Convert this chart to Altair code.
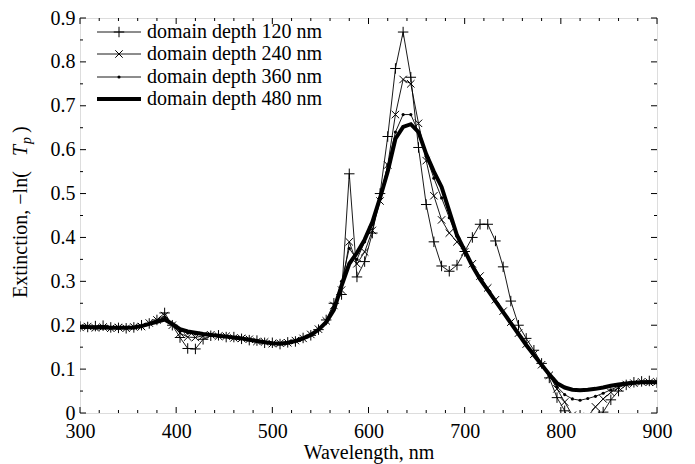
import altair as alt
import pandas as pd

FONT = "Liberation Serif"

wavelength = [300, 308, 316, 324, 332, 340, 348, 356, 364, 372, 380, 388, 396, 404, 412, 420,
              428, 436, 444, 452, 460, 468, 476, 484, 492, 500, 508, 516, 524, 532, 540, 548,
              556, 564, 572, 580, 588, 596, 604, 612, 620, 628, 636, 644, 652, 660, 668, 676,
              684, 692, 700, 708, 716, 724, 732, 740, 748, 756, 764, 772, 780, 788, 796, 804,
              812, 820, 828, 836, 844, 852, 860, 868, 876, 884, 892, 900]

depth_120 = [.197, .196, .198, .199, .195, .194, .193, .195, .200, .204, .212, .228, .200, .172, .147, .146,
             .168, .176, .177, .173, .173, .169, .166, .165, .160, .160, .157, .161, .163, .171, .177, .190,
             .212, .250, .270, .545, .310, .345, .410, .500, .630, .785, .868, .765, .605, .475, .390, .335,
             .323, .337, .368, .400, .430, .430, .392, .333, .255, .200, .170, .143, .113, .080, .035, .005,
             -.030, -.060, -.045, -.020, .002, .030, .050, .064, .070, .072, .073, .069]

depth_240 = [.195, .197, .194, .196, .193, .195, .193, .196, .197, .205, .212, .222, .200, .182, .173, .172,
             .176, .178, .175, .175, .171, .170, .168, .163, .162, .158, .159, .160, .165, .170, .179, .191,
             .210, .245, .280, .390, .340, .367, .416, .483, .565, .680, .760, .750, .660, .575, .495, .440,
             .410, .390, .367, .340, .312, .285, .258, .232, .207, .182, .157, .134, .110, .086, .055, .025,
             -.005, -.030, -.008, .014, .032, .047, .058, .065, .068, .071, .070, .071]

depth_360 = [.196, .195, .196, .194, .195, .193, .195, .194, .199, .204, .210, .216, .202, .187, .182, .180,
             .179, .177, .176, .174, .172, .170, .167, .164, .161, .159, .158, .160, .164, .170, .178, .190,
             .208, .240, .300, .375, .350, .390, .430, .490, .565, .640, .680, .680, .640, .585, .535, .490,
             .445, .403, .368, .336, .307, .280, .255, .230, .205, .180, .155, .132, .108, .085, .060, .042,
             .032, .029, .033, .038, .045, .053, .061, .066, .069, .070, .071, .070]

depth_480 = [.196, .196, .195, .195, .194, .194, .194, .195, .198, .203, .208, .213, .203, .191, .186, .183,
             .180, .178, .176, .174, .172, .170, .167, .164, .161, .159, .158, .160, .164, .170, .178, .190,
             .207, .235, .290, .340, .365, .395, .435, .490, .550, .625, .652, .658, .640, .590, .550, .515,
             .460, .405, .370, .335, .305, .280, .255, .230, .205, .180, .155, .132, .110, .088, .068, .058,
             .053, .052, .053, .055, .058, .062, .065, .067, .069, .070, .070, .070]

series_names = ["domain depth 120 nm", "domain depth 240 nm", "domain depth 360 nm", "domain depth 480 nm"]
series_values = [depth_120, depth_240, depth_360, depth_480]

x_major = [300, 400, 500, 600, 700, 800, 900]
x_minor = [v for v in range(300, 901, 20) if v % 100 != 0]
y_major = [0, 0.1, 0.2, 0.3, 0.4, 0.5, 0.6, 0.7, 0.8, 0.9]
y_minor = [0.05, 0.15, 0.25, 0.35, 0.45, 0.55, 0.65, 0.75, 0.85]

W, H = 577, 395

PLUS = "M-1,0L1,0M0,-1L0,1"
CROSS = "M-1,-1L1,1M-1,1L1,-1"

styles = [
    dict(width=0.9, shape=PLUS, size=110, filled=False, sw=1.0),
    dict(width=0.9, shape=CROSS, size=55, filled=False, sw=1.0),
    dict(width=0.9, shape="circle", size=10, filled=True, sw=0),
    dict(width=4.0, shape=None, size=0, filled=False, sw=0),
]

xscale = alt.Scale(domain=[300, 900], nice=False, zero=False)
yscale = alt.Scale(domain=[0, 0.9], nice=False, zero=False)

xaxis = alt.Axis(
    values=x_major, ticks=False, grid=False, domain=False, format="d",
    labelFont=FONT, labelFontSize=20, labelColor="black", labelPadding=8,
    labelFlush=False, labelOverlap=False,
    title="Wavelength, nm", titleFont=FONT, titleFontSize=20, titleFontWeight="normal",
    titleColor="black", titlePadding=1)
yaxis = alt.Axis(
    values=y_major, ticks=False, grid=False, domain=False, format=".1~f",
    labelFont=FONT, labelFontSize=20, labelColor="black", labelPadding=5,
    labelFlush=False, labelOverlap=False,
    title="")


def X():
    return alt.X("wl:Q", scale=xscale, axis=xaxis, title="Wavelength, nm")


def Y():
    return alt.Y("ext:Q", scale=yscale, axis=yaxis, title="")


layers = []

# tick marks (inward, on all four sides)
def xticks(vals, length):
    df = pd.DataFrame({"wl": vals})
    bot = alt.Chart(df).mark_rule(color="black", strokeWidth=1).encode(
        x=X(), y=alt.value(H), y2=alt.value(H - length))
    top = alt.Chart(df).mark_rule(color="black", strokeWidth=1).encode(
        x=X(), y=alt.value(0), y2=alt.value(length))
    return [bot, top]


def yticks(vals, length):
    df = pd.DataFrame({"ext": vals})
    left = alt.Chart(df).mark_rule(color="black", strokeWidth=1).encode(
        y=Y(), x=alt.value(0), x2=alt.value(length))
    right = alt.Chart(df).mark_rule(color="black", strokeWidth=1).encode(
        y=Y(), x=alt.value(W), x2=alt.value(W - length))
    return [left, right]


layers += xticks(x_major, 6) + xticks(x_minor, 3) + yticks(y_major, 6) + yticks(y_minor, 3)

# data series
for name, vals, st in zip(series_names, series_values, styles):
    df = pd.DataFrame({"wl": wavelength, "ext": vals})
    line = alt.Chart(df).mark_line(color="black", strokeWidth=st["width"], clip=True).encode(
        x=X(), y=Y())
    layers.append(line)
    if st["shape"] is not None:
        pts = alt.Chart(df).mark_point(
            shape=st["shape"], size=st["size"], filled=st["filled"], color="black",
            strokeWidth=st["sw"], opacity=1, clip=True).encode(x=X(), y=Y())
        layers.append(pts)

# legend (inside plot, top-left)
one = pd.DataFrame({"k": [0]})
legend_rows = [14, 36, 59, 81]
for name, st, ry in zip(series_names, styles, legend_rows):
    layers.append(alt.Chart(one).mark_rule(color="black", strokeWidth=st["width"]).encode(
        x=alt.value(17), x2=alt.value(61), y=alt.value(ry)))
    if st["shape"] is not None:
        layers.append(alt.Chart(one).mark_point(
            shape=st["shape"], size=st["size"], filled=st["filled"], color="black",
            strokeWidth=st["sw"], opacity=1).encode(x=alt.value(39), y=alt.value(ry)))
    layers.append(alt.Chart(one).mark_text(
        text=name, align="left", baseline="middle", font=FONT, fontSize=20, color="black").encode(
        x=alt.value(67), y=alt.value(ry)))

# y axis title: Extinction, −ln( T_p )
ytitle_parts = [
    ("Extinction, \u2212ln(", "normal", 20, -59, 280),
    ("T", "italic", 20, -59, 138),
    ("p", "italic", 14, -53, 126),
    (")", "normal", 20, -59, 115),
]
for txt, style, fs, px, py in ytitle_parts:
    layers.append(alt.Chart(one).mark_text(
        text=txt, angle=270, align="left", baseline="middle", font=FONT, fontSize=fs,
        fontStyle=style, color="black").encode(x=alt.value(px), y=alt.value(py)))

chart = alt.layer(*layers).properties(
    width=W, height=H,
    autosize=alt.AutoSizeParams(type="none"),
    padding={"left": 72, "top": 10, "right": 30, "bottom": 51},
).configure_view(stroke="black", strokeWidth=1).configure(font=FONT)

chart.save("out.html", embed_options={"renderer": "svg", "actions": False})
